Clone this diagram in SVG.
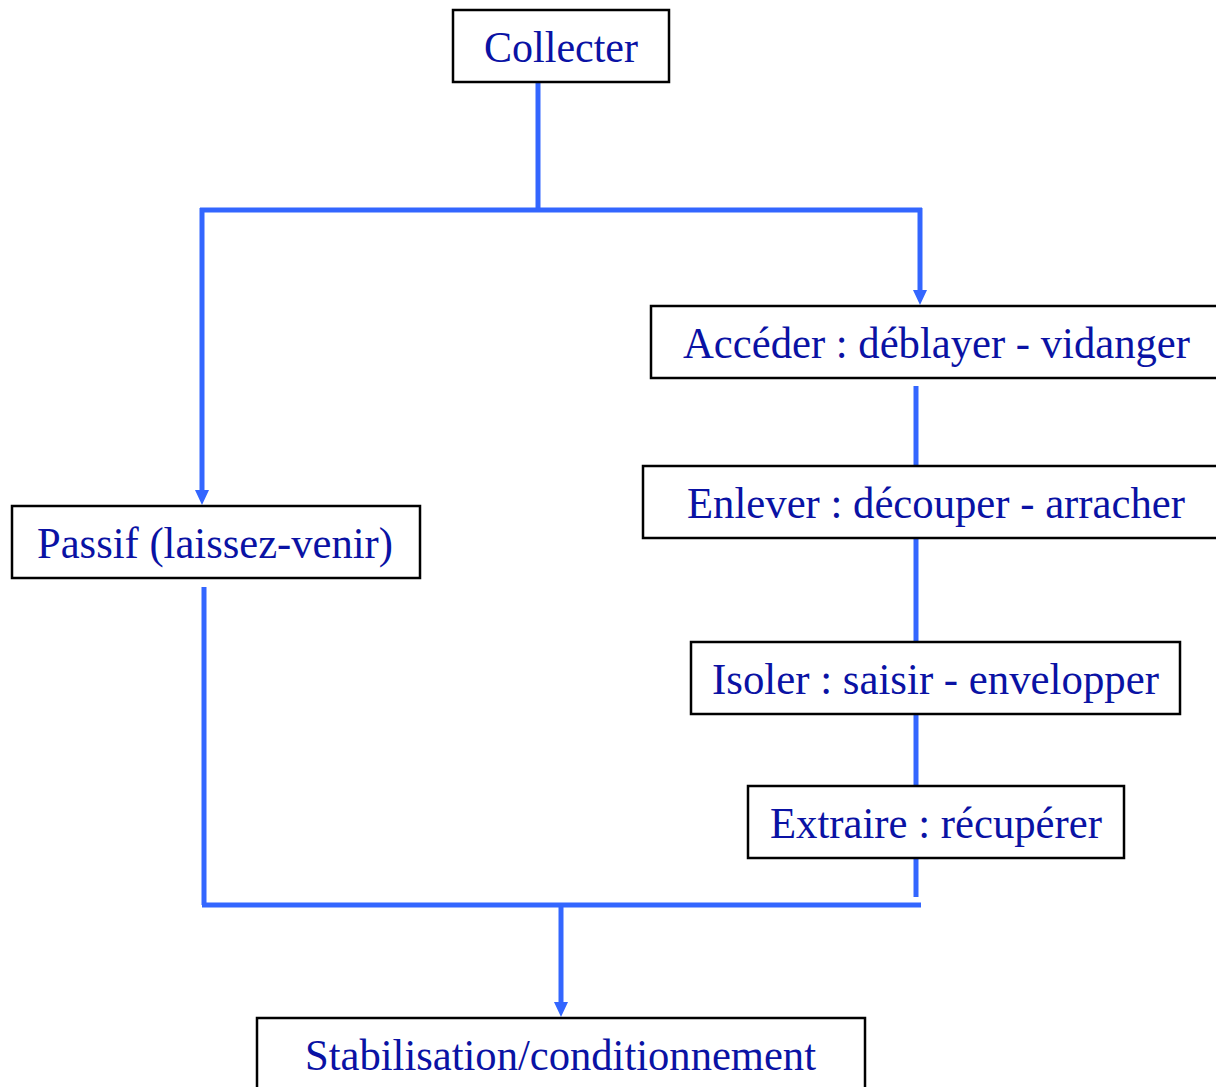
<svg xmlns="http://www.w3.org/2000/svg" width="1216" height="1087" viewBox="0 0 1216 1087">
  <style>
    .box { fill: #ffffff; stroke: #000000; stroke-width: 2.5; }
    .lbl { font-family: "Liberation Serif", "Times New Roman", serif; font-size: 44px; fill: #0a12a4; }
    .wire { fill: none; stroke: #3366ff; stroke-width: 5; stroke-linecap: butt; }
    .head { fill: #3366ff; }
  </style>
  <rect width="1216" height="1087" fill="#ffffff"/>

  <!-- connectors: trunk lines plus filled arrowheads -->
  <g id="connectors">
    <path class="wire" d="M538,82 V210"/>
    <path class="wire" d="M200,210 H922"/>
    <path class="wire" d="M202,208 V491"/>
    <path class="wire" d="M920,208 V291"/>
    <path class="wire" d="M916,386 V466"/>
    <path class="wire" d="M916,538 V642"/>
    <path class="wire" d="M916,714 V786"/>
    <path class="wire" d="M916,858 V897"/>
    <path class="wire" d="M204,587 V905"/>
    <path class="wire" d="M202,905 H921"/>
    <path class="wire" d="M561,905 V1003"/>
    <path class="head" d="M195,490 L209,490 L202,505 Z"/>
    <path class="head" d="M913,290 L927,290 L920,305 Z"/>
    <path class="head" d="M554,1002 L568,1002 L561,1017 Z"/>
  </g>

  <g id="collecter">
    <rect class="box" x="453" y="10" width="216" height="72"/>
    <text class="lbl" x="484" y="62" textLength="154" lengthAdjust="spacingAndGlyphs">Collecter</text>
  </g>

  <g id="acceder">
    <rect class="box" x="651" y="306" width="575" height="72"/>
    <text class="lbl" x="683" y="358" textLength="507" lengthAdjust="spacingAndGlyphs">Accéder : déblayer - vidanger</text>
  </g>

  <g id="enlever">
    <rect class="box" x="643" y="466" width="583" height="72"/>
    <text class="lbl" x="687" y="518" textLength="498" lengthAdjust="spacingAndGlyphs">Enlever : découper - arracher</text>
  </g>

  <g id="passif">
    <rect class="box" x="12" y="506" width="408" height="72"/>
    <text class="lbl" x="37" y="558" textLength="356" lengthAdjust="spacingAndGlyphs">Passif (laissez-venir)</text>
  </g>

  <g id="isoler">
    <rect class="box" x="691" y="642" width="489" height="72"/>
    <text class="lbl" x="712" y="694" textLength="447" lengthAdjust="spacingAndGlyphs">Isoler : saisir - envelopper</text>
  </g>

  <g id="extraire">
    <rect class="box" x="748" y="786" width="376" height="72"/>
    <text class="lbl" x="770" y="838" textLength="332" lengthAdjust="spacingAndGlyphs">Extraire : récupérer</text>
  </g>

  <g id="stabilisation">
    <rect class="box" x="257" y="1018" width="608" height="80"/>
    <text class="lbl" x="305" y="1070" textLength="511" lengthAdjust="spacingAndGlyphs">Stabilisation/conditionnement</text>
  </g>
</svg>
